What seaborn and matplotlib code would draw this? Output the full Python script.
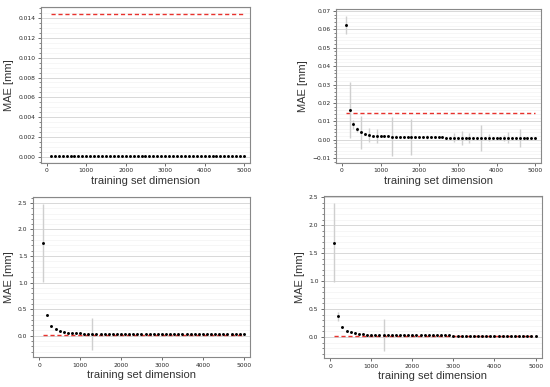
import numpy as np
import pandas as pd
import matplotlib
matplotlib.use('Agg')
import matplotlib.pyplot as plt
import seaborn as sns
from matplotlib.ticker import AutoMinorLocator, MultipleLocator

# training set sizes 100..5000
sizes = [100, 200, 300, 400, 500, 600, 700, 800, 900, 1000,
         1100, 1200, 1300, 1400, 1500, 1600, 1700, 1800, 1900, 2000,
         2100, 2200, 2300, 2400, 2500, 2600, 2700, 2800, 2900, 3000,
         3100, 3200, 3300, 3400, 3500, 3600, 3700, 3800, 3900, 4000,
         4100, 4200, 4300, 4400, 4500, 4600, 4700, 4800, 4900, 5000]

# top left
tl_mean = [0.0001, 0.0001, 0.0001, 0.0001, 0.0001, 0.0001, 0.0001, 0.0001, 0.0001, 0.0001,
           0.0001, 0.0001, 0.0001, 0.0001, 0.0001, 0.0001, 0.0001, 0.0001, 0.0001, 0.0001,
           0.0001, 0.0001, 0.0001, 0.0001, 0.0001, 0.0001, 0.0001, 0.0001, 0.0001, 0.0001,
           0.0001, 0.0001, 0.0001, 0.0001, 0.0001, 0.0001, 0.0001, 0.0001, 0.0001, 0.0001,
           0.0001, 0.0001, 0.0001, 0.0001, 0.0001, 0.0001, 0.0001, 0.0001, 0.0001, 0.0001]
tl_std = [0, 0, 0, 0, 0, 0, 0, 0, 0, 0,
          0, 0, 0, 0, 0, 0, 0, 0, 0, 0,
          0, 0, 0, 0, 0, 0, 0, 0, 0, 0,
          0, 0, 0, 0, 0, 0, 0, 0, 0, 0,
          0, 0, 0, 0, 0, 0, 0, 0, 0, 0]
tl_ref = 0.0144

# top right
tr_mean = [0.0625, 0.0163, 0.0083, 0.0056, 0.0040, 0.0031, 0.0026, 0.0023, 0.0021, 0.0020,
           0.0019, 0.0018, 0.0017, 0.0017, 0.0016, 0.0016, 0.0015, 0.0015, 0.0015, 0.0014,
           0.0014, 0.0014, 0.0013, 0.0013, 0.0013, 0.0013, 0.0012, 0.0012, 0.0012, 0.0012,
           0.0012, 0.0012, 0.0011, 0.0011, 0.0011, 0.0011, 0.0011, 0.0011, 0.0011, 0.0011,
           0.0010, 0.0010, 0.0010, 0.0010, 0.0010, 0.0010, 0.0010, 0.0010, 0.0010, 0.0010]
tr_std = [0.0048, 0.0153, 0.0022, 0.0012, 0.0088, 0.0006, 0.0037, 0.0, 0.0040, 0.0,
          0.0, 0.0, 0.0105, 0.0007, 0.0, 0.0, 0.0, 0.0098, 0.0, 0.0,
          0.0, 0.0012, 0.0, 0.0, 0.0, 0.0, 0.0, 0.0, 0.0022, 0.0,
          0.0038, 0.0, 0.0028, 0.0, 0.0, 0.0070, 0.0, 0.0019, 0.0, 0.0,
          0.0, 0.0018, 0.0030, 0.0, 0.0, 0.0049, 0.0, 0.0, 0.0, 0.0]
tr_ref = 0.0144

# bottom left
bl_mean = [1.74, 0.39, 0.19, 0.12, 0.09, 0.07, 0.056, 0.050, 0.046, 0.043,
           0.041, 0.039, 0.037, 0.036, 0.035, 0.034, 0.033, 0.032, 0.031, 0.031,
           0.030, 0.030, 0.029, 0.029, 0.029, 0.028, 0.028, 0.028, 0.028, 0.027,
           0.027, 0.027, 0.027, 0.027, 0.026, 0.026, 0.026, 0.026, 0.026, 0.026,
           0.026, 0.026, 0.025, 0.025, 0.025, 0.025, 0.025, 0.025, 0.025, 0.025]
bl_std = [0.735, 0, 0, 0, 0, 0, 0, 0, 0, 0,
          0, 0, 0.30, 0, 0, 0, 0, 0, 0, 0,
          0, 0, 0, 0, 0, 0, 0, 0, 0, 0,
          0, 0, 0, 0, 0, 0, 0, 0, 0, 0,
          0, 0, 0, 0, 0, 0, 0, 0, 0, 0]
bl_ref = 0.02

# bottom right
br_mean = [1.69, 0.37, 0.18, 0.11, 0.083, 0.065, 0.055, 0.048, 0.044, 0.041,
           0.039, 0.037, 0.036, 0.035, 0.034, 0.033, 0.032, 0.031, 0.030, 0.030,
           0.029, 0.029, 0.028, 0.028, 0.028, 0.027, 0.027, 0.027, 0.027, 0.026,
           0.026, 0.026, 0.026, 0.026, 0.025, 0.025, 0.025, 0.025, 0.025, 0.025,
           0.025, 0.025, 0.024, 0.024, 0.024, 0.024, 0.024, 0.024, 0.024, 0.024]
br_std = [0.70, 0.08, 0, 0, 0, 0, 0, 0, 0, 0,
          0, 0, 0.28, 0, 0, 0, 0, 0, 0, 0,
          0, 0, 0, 0, 0, 0, 0, 0, 0, 0,
          0, 0, 0, 0, 0, 0, 0, 0, 0, 0,
          0, 0, 0, 0, 0, 0, 0, 0, 0, 0]
br_ref = 0.015

sns.set_theme(style='ticks')
plt.rcParams['font.family'] = ['DejaVu Sans']

fig = plt.figure(figsize=(5.5, 3.87), dpi=100)

# [left, bottom, width, height] for each panel
panels = [
    ([0.0745, 0.579, 0.380, 0.403], tl_mean, tl_std, tl_ref, 0.002),
    ([0.611, 0.579, 0.3726, 0.398], tr_mean, tr_std, tr_ref, 0.01),
    ([0.060, 0.0775, 0.3945, 0.4135], bl_mean, bl_std, bl_ref, 0.5),
    ([0.589, 0.075, 0.396, 0.4185], br_mean, br_std, br_ref, 0.5),
]

for rect, mean, std, ref, step in panels:
    ax = fig.add_axes(rect)
    df = pd.DataFrame({'size': sizes, 'mae': mean, 'std': std})
    ax.set_axisbelow(True)
    ax.yaxis.set_major_locator(MultipleLocator(step))
    ax.yaxis.set_minor_locator(AutoMinorLocator())
    ax.grid(axis='y', which='major', color='#d8d8d8', lw=0.7)
    ax.grid(axis='y', which='minor', color='#f3f3f3', lw=0.5)

    # red reference line
    sns.lineplot(x=df['size'], y=[ref] * len(df), ax=ax, color='#e8322d',
                 lw=1.0, linestyle=(0, (3, 2)), zorder=2)
    # std error bars
    eb = df[df['std'] > 0]
    ax.errorbar(eb['size'], eb['mae'], yerr=eb['std'], fmt='none',
                ecolor='#cfcfcf', elinewidth=1.0, capsize=0, zorder=3)
    sns.scatterplot(data=df, x='size', y='mae', ax=ax, color='black', s=4.5,
                    marker='o', linewidth=0, zorder=4)

    ax.set_xlim(-150, 5150)
    ax.set_xticks([0, 1000, 2000, 3000, 4000, 5000])
    ax.tick_params(axis='both', which='major', labelsize=4.3, length=2.5,
                   width=0.6, color='#555555', pad=1.5)
    ax.tick_params(axis='y', which='minor', length=1.5, width=0.5, color='#555555')
    ax.set_xlabel('training set dimension', fontsize=8, family='Liberation Sans',
                  color='#333333', labelpad=2)
    ax.set_ylabel('MAE [mm]', fontsize=8, family='Liberation Sans',
                  color='#333333', labelpad=3)
    for sp in ax.spines.values():
        sp.set_color('#888888')
        sp.set_linewidth(0.8)

fig.savefig('out.png', dpi=100)
